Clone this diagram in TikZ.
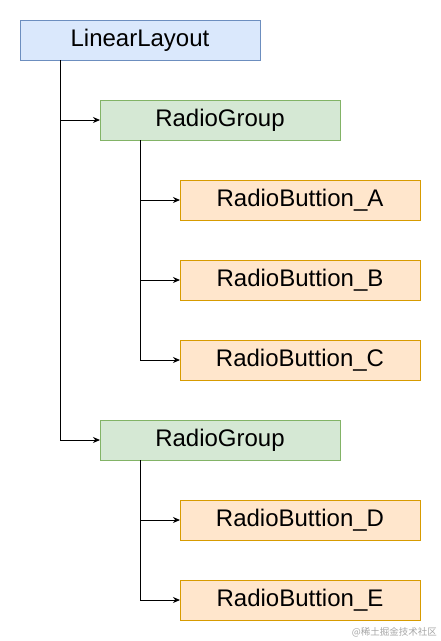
\documentclass[tikz,border=0pt]{standalone}
\usepackage{fontspec}
\setmainfont{Liberation Sans}
\newfontfamily\cjk{Noto Sans CJK SC}
\usetikzlibrary{arrows.meta}
\definecolor{blueF}{HTML}{DAE8FC}\definecolor{blueD}{HTML}{6C8EBF}
\definecolor{greenF}{HTML}{D5E8D4}\definecolor{greenD}{HTML}{82B366}
\definecolor{orangeF}{HTML}{FFE6CC}\definecolor{orangeD}{HTML}{D79B00}
\tikzset{
  box/.style={minimum width=240pt,minimum height=40pt,inner sep=0pt,outer sep=0pt,line width=0.9pt,font=\fontsize{24}{26}\selectfont},
  bluebox/.style={box,fill=blueF,draw=blueD},
  greenbox/.style={box,fill=greenF,draw=greenD},
  orangebox/.style={box,fill=orangeF,draw=orangeD},
  conn/.style={line width=0.9pt,-{Stealth[length=7pt,width=6pt]}}
}
\begin{document}
\begin{tikzpicture}[x=1pt,y=-1pt]
\useasboundingbox (0,0) rectangle (441,641);
\node[bluebox] (ll) at (140,40) {LinearLayout};
\node[greenbox] (rg1) at (220,120) {RadioGroup};
\node[orangebox] (a) at (300,200) {RadioButtion\_A};
\node[orangebox] (b) at (300,280) {RadioButtion\_B};
\node[orangebox] (c) at (300,360) {RadioButtion\_C};
\node[greenbox] (rg2) at (220,440) {RadioGroup};
\node[orangebox] (d) at (300,520) {RadioButtion\_D};
\node[orangebox] (e) at (300,600) {RadioButtion\_E};
\draw[conn] ([xshift=-80pt]ll.south) |- (rg1.west);
\draw[conn] ([xshift=-80pt]ll.south) |- (rg2.west);
\draw[conn] ([xshift=-80pt]rg1.south) |- (a.west);
\draw[conn] ([xshift=-80pt]rg1.south) |- (b.west);
\draw[conn] ([xshift=-80pt]rg1.south) |- (c.west);
\draw[conn] ([xshift=-80pt]rg2.south) |- (d.west);
\draw[conn] ([xshift=-80pt]rg2.south) |- (e.west);
\node[anchor=east,text=black!35,font=\cjk\fontsize{9.5}{10}\selectfont,inner sep=0pt] (wm) at (437,632) {@稀土掘金技术社区};
\end{tikzpicture}
\end{document}
